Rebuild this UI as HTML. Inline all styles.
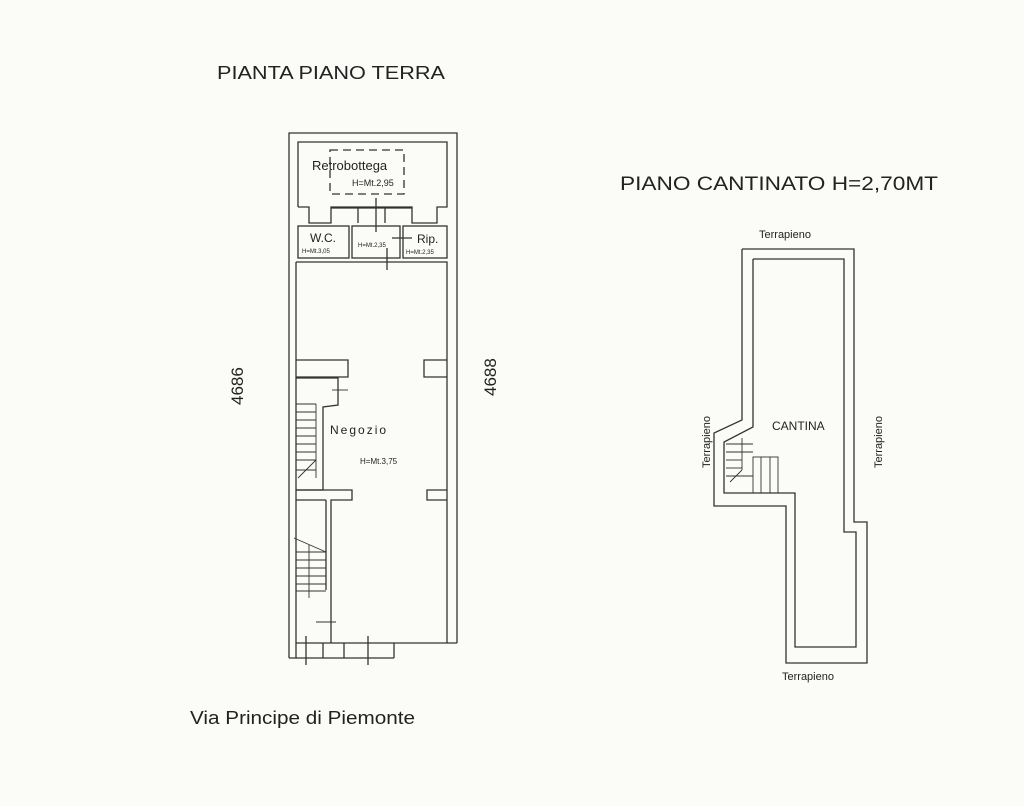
<!DOCTYPE html>
<html><head><meta charset="utf-8"><style>
html,body{margin:0;padding:0;background:#fdfdfb;}
svg{display:block}
text{font-family:"Liberation Sans",sans-serif;fill:#222}
</style></head><body>
<svg width="1024" height="806" viewBox="0 0 1024 806" xmlns="http://www.w3.org/2000/svg">
<rect width="1024" height="806" fill="#fbfbf8"/>
<g stroke="#333" stroke-width="1.3" fill="none">
<polyline points="289,658 289,133 457,133 457,643"/>
<polyline points="296,643 296,262"/>
<polyline points="298,207 298,142 447,142 447,207 437,207 437,223 412,223 412,207 331,207 331,223 309,223 309,207 298,207"/>
<line x1="331" y1="208" x2="412" y2="208"/>
<line x1="358" y1="208" x2="358" y2="223"/><line x1="385" y1="208" x2="385" y2="223"/>
<rect x="330" y="150" width="74" height="44" stroke-dasharray="8,5"/>
<rect x="298" y="226" width="51" height="32"/>
<rect x="352" y="226" width="48" height="32"/>
<rect x="403" y="226" width="44" height="32"/>
<line x1="376" y1="198" x2="376" y2="232"/><line x1="387" y1="248" x2="387" y2="270"/>
<line x1="392" y1="238" x2="412" y2="238"/>
<polyline points="296,262 447,262 447,643"/>
<polyline points="296,360 348,360 348,377 296,377"/>
<polyline points="447,360 424,360 424,377 447,377"/>
<polyline points="296,378 338,378 338,405 323,407 323,490 296,490"/>
<polyline points="296,490 352,490 352,500 331,500 331,643"/>
<polyline points="447,490 427,490 427,500 447,500"/>
<line x1="296" y1="500" x2="326" y2="500"/><line x1="326" y1="500" x2="326" y2="590"/>
<g stroke-width="0.9">
<line x1="296" y1="404" x2="316" y2="404"/><line x1="296" y1="412" x2="316" y2="412"/><line x1="296" y1="420" x2="316" y2="420"/><line x1="296" y1="428" x2="316" y2="428"/><line x1="296" y1="436" x2="316" y2="436"/><line x1="296" y1="444" x2="316" y2="444"/><line x1="296" y1="452" x2="316" y2="452"/><line x1="296" y1="460" x2="316" y2="460"/><line x1="296" y1="470" x2="316" y2="470"/>
<line x1="316" y1="404" x2="316" y2="478"/><line x1="298" y1="478" x2="316" y2="460"/>
<line x1="294" y1="538" x2="326" y2="552"/>
<line x1="296" y1="552" x2="326" y2="552"/><line x1="296" y1="560" x2="326" y2="560"/><line x1="296" y1="568" x2="326" y2="568"/><line x1="296" y1="576" x2="326" y2="576"/><line x1="296" y1="584" x2="326" y2="584"/><line x1="296" y1="591" x2="326" y2="591"/>
<line x1="309" y1="545" x2="309" y2="598"/>
<line x1="332" y1="390" x2="348" y2="390"/><line x1="316" y1="622" x2="336" y2="622"/>
</g>
<polyline points="289,658 296,658 296,643 457,643"/>
<line x1="296" y1="658" x2="394" y2="658"/>
<line x1="394" y1="643" x2="394" y2="658"/><line x1="344" y1="643" x2="344" y2="658"/><line x1="323" y1="643" x2="323" y2="658"/>
<line x1="306" y1="636" x2="306" y2="665"/><line x1="368" y1="636" x2="368" y2="665"/>
<polyline points="742,249 854,249 854,522 867,522 867,663 786,663 786,506 714,506 714,433 742,420 742,249"/>
<polyline points="753,259 844,259 844,532 856,532 856,647 795,647 795,493 724,493 724,442 753,427 753,259"/>
<g stroke-width="0.9">
<rect x="753" y="457" width="25" height="36"/>
<line x1="761" y1="457" x2="761" y2="493"/><line x1="770" y1="457" x2="770" y2="493"/>
<line x1="726" y1="444" x2="753" y2="444"/><line x1="726" y1="452" x2="753" y2="452"/><line x1="726" y1="460" x2="742" y2="460"/><line x1="726" y1="468" x2="742" y2="468"/><line x1="726" y1="476" x2="753" y2="476"/>
<line x1="742" y1="438" x2="742" y2="470"/><line x1="742" y1="470" x2="730" y2="482"/>
</g>
</g>
<text x="217" y="79" font-size="18" textLength="228" lengthAdjust="spacingAndGlyphs">PIANTA PIANO TERRA</text>
<text x="312" y="170" font-size="13">Retrobottega</text>
<text x="352" y="186" font-size="9">H=Mt.2,95</text>
<text x="310" y="242" font-size="12">W.C.</text>
<text x="302" y="253" font-size="6">H=Mt.3,05</text>
<text x="358" y="247" font-size="6">H=Mt.2,35</text>
<text x="417" y="243" font-size="12">Rip.</text>
<text x="406" y="254" font-size="6">H=Mt.2,35</text>
<text x="330" y="434" font-size="12" letter-spacing="2">Negozio</text>
<text x="360" y="464" font-size="8">H=Mt.3,75</text>
<text transform="translate(243,405) rotate(-90)" font-size="17">4686</text>
<text transform="translate(496,396) rotate(-90)" font-size="17">4688</text>
<text x="190" y="724" font-size="18" textLength="225" lengthAdjust="spacingAndGlyphs">Via  Principe di Piemonte</text>
<text x="620" y="190" font-size="19" textLength="318" lengthAdjust="spacingAndGlyphs">PIANO CANTINATO  H=2,70MT</text>
<text x="759" y="238" font-size="11">Terrapieno</text>
<text x="772" y="430" font-size="12">CANTINA</text>
<text x="782" y="680" font-size="11">Terrapieno</text>
<text transform="translate(710,468) rotate(-90)" font-size="11">Terrapieno</text>
<text transform="translate(882,468) rotate(-90)" font-size="11">Terrapieno</text>
</svg>
</body></html>
